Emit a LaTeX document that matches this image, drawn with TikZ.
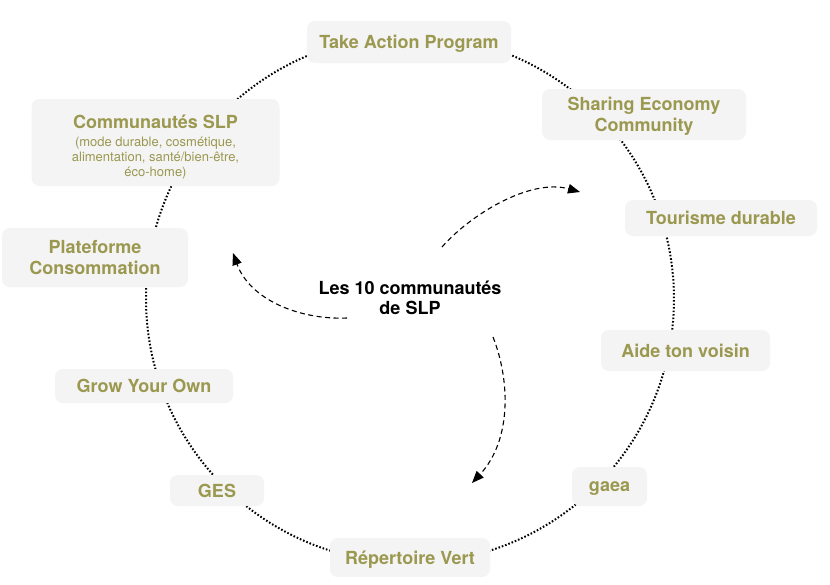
\documentclass[tikz,border=0pt]{standalone}
\usepackage{fontspec}
\setmainfont{TeX Gyre Heros}
\usetikzlibrary{arrows.meta}
\pgfdeclarelayer{background}
\pgfsetlayers{background,main}
\definecolor{olivetext}{RGB}{155,152,80}
\definecolor{boxgray}{RGB}{244,244,244}
\tikzset{
  box/.style={fill=boxgray, rounded corners=8pt, inner sep=0pt, align=center,
    text=olivetext, text depth=0pt, font=\bfseries\fontsize{18}{21.5}\selectfont},
  dotline/.style={line width=2pt, dash pattern=on 1.6pt off 1.9pt, black},
  dasharrow/.style={line width=1.1pt, dash pattern=on 5pt off 3.5pt, black,
    -{Triangle[length=12pt,width=9.5pt]}},
  centertext/.style={align=center, text=black, font=\bfseries\fontsize{18}{19.5}\selectfont}
}
\begin{document}
\begin{tikzpicture}[x=1pt,y=1pt]
\begin{pgfonlayer}{background}
\path[fill=white] (0,0) rectangle (830,-584);
\end{pgfonlayer}
\useasboundingbox (0,0) rectangle (830,-584);

\node[box, minimum width=204pt, minimum height=42pt] (ta) at (409,-42) {Take Action Program};
\node[box, minimum width=204pt, minimum height=51pt] (se) at (644,-114.5) {Sharing Economy\\Community};
\node[box, minimum width=192pt, minimum height=36pt] (td) at (721,-218) {Tourisme durable};
\node[box, minimum width=169pt, minimum height=41pt] (atv) at (685.5,-350.5) {Aide ton voisin};
\node[box, minimum width=75pt, minimum height=39pt] (ga) at (609.5,-486.5) {gaea};
\node[box, minimum width=160pt, minimum height=39pt] (rv) at (410,-557.5) {Répertoire Vert};
\node[box, minimum width=94pt, minimum height=31pt] (ges) at (217,-490.5) {GES};
\node[box, minimum width=178pt, minimum height=34pt] (gyo) at (144,-386) {Grow Your Own};
\node[box, minimum width=186pt, minimum height=59pt] (pc) at (95,-257.5) {Plateforme\\Consommation};
\node[box, minimum width=248pt, minimum height=87pt, text depth=-4pt, font=\mdseries\fontsize{13}{15}\selectfont] (cs) at (155.5,-142.5)
  {\rule{0pt}{19pt}{\bfseries\fontsize{18}{15}\selectfont Communautés SLP}\\[3pt](mode durable, cosmétique,\\alimentation, santé/bien-être,\\éco-home)};

\node[centertext] (ctr) at (410,-298) {Les 10 communautés\\de SLP};

\coordinate (O) at (410,-299);
\path (O) ++(90:264) coordinate (ta-p);
\path (O) ++(45:264) coordinate (se-p);
\path (O) ++(18:264) coordinate (td-p);
\path (O) ++(-11:264) coordinate (atv-p);
\path (O) ++(-45:264) coordinate (ga-p);
\path (O) ++(-90:264) coordinate (rv-p);
\path (O) ++(-133:264) coordinate (ges-p);
\path (O) ++(-160:264) coordinate (gyo-p);
\path (O) ++(171:264) coordinate (pc-p);
\path (O) ++(143:264) coordinate (cs-p);

\begin{pgfonlayer}{background}
\draw[dotline] (ta-p) arc[start angle=90, end angle=45, radius=264];
\draw[dotline] (se-p) arc[start angle=45, end angle=18, radius=264];
\draw[dotline] (td-p) arc[start angle=18, end angle=-11, radius=264];
\draw[dotline] (atv-p) arc[start angle=-11, end angle=-45, radius=264];
\draw[dotline] (ga-p) arc[start angle=-45, end angle=-90, radius=264];
\draw[dotline] (rv-p) arc[start angle=-90, end angle=-133, radius=264];
\draw[dotline] (ges-p) arc[start angle=-133, end angle=-160, radius=264];
\draw[dotline] (gyo-p) arc[start angle=200, end angle=171, radius=264];
\draw[dotline] (pc-p) arc[start angle=171, end angle=143, radius=264];
\draw[dotline] (cs-p) arc[start angle=143, end angle=90, radius=264];
\end{pgfonlayer}

\coordinate (a1s) at (442,-247);
\coordinate (a1e) at (580,-192);
\coordinate (a2s) at (347,-318);
\coordinate (a2e) at (233,-253);
\coordinate (a3s) at (493,-337);
\coordinate (a3e) at (472,-483);
\draw[dasharrow] (a1s) .. controls (470,-215) and (530,-178) .. (a1e);
\draw[dasharrow] (a2s) .. controls (300,-320) and (250,-300) .. (a2e);
\draw[dasharrow] (a3s) .. controls (510,-380) and (512,-440) .. (a3e);
\end{tikzpicture}
\end{document}
